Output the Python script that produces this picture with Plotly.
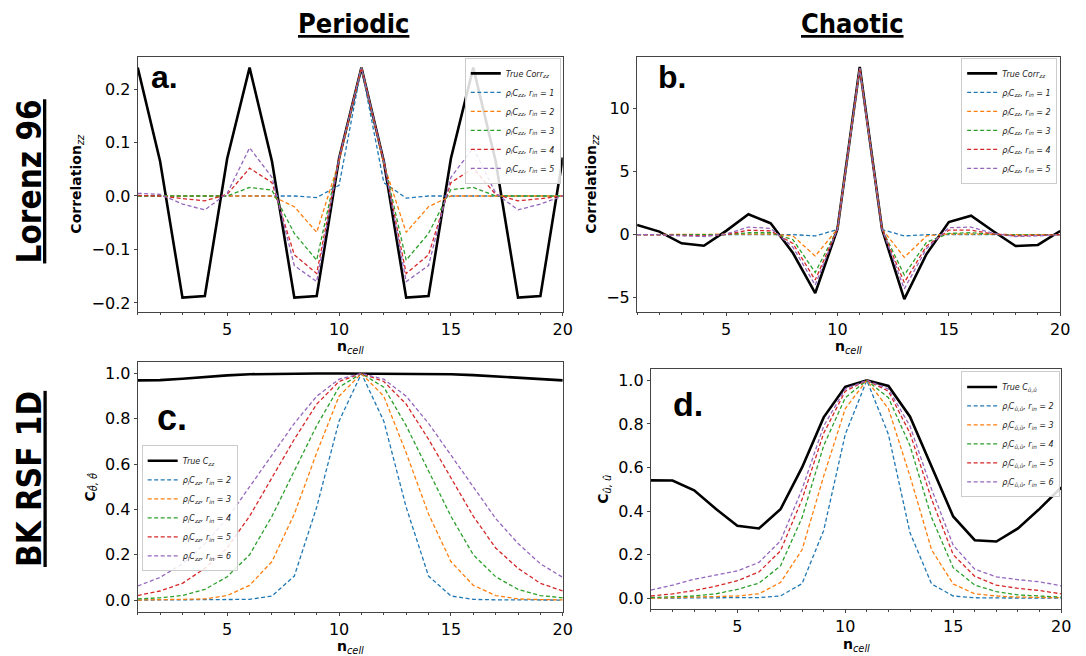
import plotly.graph_objects as go

x_cells = list(range(1, 21))

# Panel a: Lorenz 96 periodic
a_true = [0.240, 0.065, -0.190, -0.187, 0.070, 0.240, 0.065, -0.190, -0.187, 0.070,
          0.240, 0.065, -0.190, -0.187, 0.070, 0.240, 0.065, -0.190, -0.187, 0.072]
a_r1 = [0, 0, 0, 0, 0, 0, 0, 0, -0.003, 0.020, 0.240, 0.025, -0.004, 0, 0, 0, 0, 0, 0, 0]
a_r2 = [0, 0, 0, 0, 0, 0, 0, -0.020, -0.068, 0.065, 0.240, 0.060, -0.068, -0.020, 0, 0, 0, 0, 0, 0]
a_r3 = [0, 0, 0, 0, 0, 0.016, 0.011, -0.070, -0.120, 0.070, 0.240, 0.065, -0.120, -0.070, 0.012, 0.016, 0, 0, 0, 0]
a_r4 = [0.001, 0, -0.005, -0.009, 0.003, 0.052, 0.025, -0.110, -0.145, 0.070, 0.240, 0.065, -0.145, -0.110, 0.025, 0.052, 0.003, -0.009, -0.005, 0]
a_r5 = [0.005, 0.003, -0.015, -0.026, 0.005, 0.090, 0.035, -0.130, -0.160, 0.070, 0.240, 0.065, -0.160, -0.130, 0.035, 0.090, 0.005, -0.026, -0.015, 0]

# Panel b: Lorenz 96 chaotic
b_true = [0.77, 0.24, -0.69, -0.88, 0.30, 1.62, 0.90, -1.46, -4.64, 0.45,
          13.3, 0.45, -5.12, -1.54, 1.00, 1.50, 0.27, -0.90, -0.82, 0.29]
b_r1 = [0, 0, 0, 0, 0, 0, 0, 0, -0.10, 0.40, 13.2, 0.40, -0.10, 0, 0, 0, 0, 0, 0, 0]
b_r2 = [0, 0, 0, 0, 0, 0.05, 0.05, -0.10, -1.70, 0.45, 13.2, 0.45, -1.80, -0.10, 0.05, 0.05, 0, 0, 0, 0]
b_r3 = [0, 0, -0.03, -0.03, 0, 0.15, 0.15, -0.40, -3.00, 0.45, 13.2, 0.45, -3.20, -0.60, 0.10, 0.15, 0.02, -0.03, -0.02, 0]
b_r4 = [0, 0, -0.05, -0.10, 0, 0.35, 0.30, -0.70, -3.60, 0.45, 13.2, 0.45, -3.80, -0.90, 0.35, 0.35, 0.05, -0.10, -0.05, 0]
b_r5 = [0, 0, -0.10, -0.15, 0.05, 0.60, 0.50, -1.00, -4.00, 0.45, 13.2, 0.45, -4.30, -1.10, 0.55, 0.60, 0.10, -0.15, -0.10, 0]

# Panel c: BK RSF 1D periodic
c_true = [0.970, 0.971, 0.977, 0.985, 0.992, 0.997, 0.999, 1.0, 1.0, 1.0,
          1.0, 1.0, 1.0, 0.999, 0.997, 0.993, 0.987, 0.980, 0.974, 0.970]
c_r2 = [0.0, 0.0, 0.0, 0.001, 0.001, 0.003, 0.018, 0.106, 0.41, 0.79,
        1.0, 0.79, 0.41, 0.106, 0.018, 0.003, 0.001, 0.001, 0.0, 0.0]
c_r3 = [0.0, 0.001, 0.002, 0.005, 0.020, 0.065, 0.17, 0.38, 0.65, 0.90,
        1.0, 0.90, 0.65, 0.38, 0.17, 0.065, 0.020, 0.005, 0.002, 0.001]
c_r4 = [0.005, 0.010, 0.020, 0.047, 0.103, 0.20, 0.37, 0.57, 0.77, 0.94,
        1.0, 0.94, 0.77, 0.57, 0.37, 0.20, 0.103, 0.047, 0.020, 0.010]
c_r5 = [0.020, 0.040, 0.074, 0.14, 0.23, 0.37, 0.54, 0.71, 0.865, 0.965,
        1.0, 0.965, 0.865, 0.71, 0.54, 0.37, 0.23, 0.14, 0.074, 0.040]
c_r6 = [0.062, 0.10, 0.16, 0.25, 0.36, 0.50, 0.64, 0.78, 0.90, 0.975,
        1.0, 0.975, 0.90, 0.78, 0.64, 0.50, 0.36, 0.25, 0.16, 0.10]

# Panel d: BK RSF 1D chaotic
d_true = [0.541, 0.540, 0.495, 0.410, 0.332, 0.320, 0.408, 0.600, 0.830, 0.970,
          1.0, 0.974, 0.833, 0.600, 0.375, 0.266, 0.260, 0.320, 0.410, 0.508]
d_r2 = [0.0, 0.0, 0.0, 0.0, 0.001, 0.003, 0.010, 0.067, 0.31, 0.752,
        1.0, 0.752, 0.30, 0.065, 0.010, 0.002, 0.001, 0.0, 0.0, 0.0]
d_r3 = [0.0, 0.002, 0.003, 0.005, 0.010, 0.020, 0.072, 0.222, 0.56, 0.87,
        1.0, 0.87, 0.56, 0.222, 0.065, 0.020, 0.010, 0.005, 0.003, 0.002]
d_r4 = [0.003, 0.006, 0.010, 0.020, 0.040, 0.069, 0.148, 0.37, 0.70, 0.92,
        1.0, 0.92, 0.70, 0.37, 0.14, 0.06, 0.03, 0.015, 0.010, 0.005]
d_r5 = [0.010, 0.020, 0.035, 0.055, 0.080, 0.120, 0.217, 0.454, 0.757, 0.95,
        1.0, 0.95, 0.757, 0.454, 0.20, 0.10, 0.06, 0.045, 0.035, 0.020]
d_r6 = [0.037, 0.060, 0.087, 0.105, 0.125, 0.164, 0.263, 0.50, 0.79, 0.96,
        1.0, 0.96, 0.79, 0.50, 0.243, 0.133, 0.098, 0.085, 0.075, 0.057]

colors = ["#1f77b4", "#ff7f0e", "#2ca02c", "#d62728", "#9467bd"]

fig = go.Figure()

def add_panel(n, true_vals, true_name, series, names):
    xa = "x" if n == 1 else f"x{n}"
    ya = "y" if n == 1 else f"y{n}"
    lg = "legend" if n == 1 else f"legend{n}"
    fig.add_trace(go.Scatter(x=x_cells, y=true_vals, mode="lines", name=true_name,
                             line=dict(color="black", width=2.6), xaxis=xa, yaxis=ya, legend=lg))
    for vals, nm, col in zip(series, names, colors):
        fig.add_trace(go.Scatter(x=x_cells, y=vals, mode="lines", name=nm,
                                 line=dict(color=col, width=1.3, dash="4px,2.5px"),
                                 xaxis=xa, yaxis=ya, legend=lg))

czz = "<i>ρ<sub>l</sub>C<sub>zz</sub>, r<sub>in</sub> = %d</i>"
cuu = "<i>ρ<sub>l</sub>C<sub>û,û</sub>, r<sub>in</sub> = %d</i>"
add_panel(1, a_true, "<i>True Corr<sub>zz</sub></i>", [a_r1, a_r2, a_r3, a_r4, a_r5], [czz % k for k in range(1, 6)])
add_panel(2, b_true, "<i>True Corr<sub>zz</sub></i>", [b_r1, b_r2, b_r3, b_r4, b_r5], [czz % k for k in range(1, 6)])
add_panel(3, c_true, "<i>True C<sub>zz</sub></i>", [c_r2, c_r3, c_r4, c_r5, c_r6], [czz % k for k in range(2, 7)])
add_panel(4, d_true, "<i>True C<sub>û,û</sub></i>", [d_r2, d_r3, d_r4, d_r5, d_r6], [cuu % k for k in range(2, 7)])

W, H = 1086, 656
def px_dom(a, b, total):
    return [a / total, b / total]
def py_dom(top, bottom):
    return [1 - bottom / H, 1 - top / H]

tickfont = dict(family="DejaVu Sans", size=16, color="black")
titlefont = dict(family="DejaVu Sans", size=14, color="black")
ncell = "<b>n</b><sub><i>cell</i></sub>"

axcommon = dict(showline=True, mirror=True, linecolor="#444", linewidth=1.2, ticks="outside",
                ticklen=3, tickcolor="#444", showgrid=False, zeroline=False, tickfont=tickfont)
xcommon = dict(axcommon, range=[1, 20], tick0=0, dtick=5,
               minor=dict(dtick=1, tick0=0, ticks="outside", ticklen=2, tickcolor="#444"))

doms = {
    1: (px_dom(139, 568, W), py_dom(57, 312)),
    2: (px_dom(643, 1070, W), py_dom(57, 312)),
    3: (px_dom(139, 568, W), py_dom(363, 613)),
    4: (px_dom(657, 1071, W), py_dom(370, 610)),
}
yinfo = {
    1: dict(range=[-0.216, 0.26], dtick=0.1, tickformat=".1f", title="<b>Correlation</b><sub><i>zz</i></sub>"),
    2: dict(range=[-6.1, 14.1], dtick=5, title="<b>Correlation</b><sub><i>zz</i></sub>"),
    3: dict(range=[-0.053, 1.049], dtick=0.2, tickformat=".1f", title="<b>C</b><sub><i>θ̂, θ̂</i></sub>"),
    4: dict(range=[-0.05, 1.05], dtick=0.2, tickformat=".1f", title="<b>C</b><sub><i>û, û</i></sub>"),
}
lay = {}
for n in range(1, 5):
    xk = "xaxis" if n == 1 else f"xaxis{n}"
    yk = "yaxis" if n == 1 else f"yaxis{n}"
    xd, yd = doms[n]
    lay[xk] = dict(xcommon, domain=xd, anchor="y" if n == 1 else f"y{n}")
    yi = yinfo[n]
    lay[yk] = dict(axcommon, domain=yd, anchor="x" if n == 1 else f"x{n}",
                   range=yi["range"], dtick=yi["dtick"], tick0=0,
                   tickformat=yi.get("tickformat", ""),
                   title=dict(text=yi["title"], font=titlefont, standoff=6))

legfont = dict(family="DejaVu Sans", size=8, color="#222")
legcommon = dict(font=legfont, bgcolor="rgba(255,255,255,0.85)", bordercolor="#ccc", borderwidth=1,
                 itemwidth=30, tracegroupgap=0)
lay["legend"] = dict(legcommon, x=566 / W, y=1 - 58 / H, xanchor="right", yanchor="top")
lay["legend2"] = dict(legcommon, x=1067 / W, y=1 - 58 / H, xanchor="right", yanchor="top")
lay["legend3"] = dict(legcommon, x=143 / W, y=1 - 446 / H, xanchor="left", yanchor="top")
lay["legend4"] = dict(legcommon, x=1070 / W, y=1 - 372 / H, xanchor="right", yanchor="top")

fig.update_layout(width=W, height=H, margin=dict(l=0, r=0, t=0, b=0),
                  paper_bgcolor="white", plot_bgcolor="white", showlegend=True, **lay)

hdr = "Liberation Sans Narrow, DejaVu Sans Condensed, Arial Narrow, sans-serif"
ann = [
    dict(text="<b><u>Periodic</u></b>", x=357 / W, y=1 - 24 / H, font=dict(family=hdr, size=27)),
    dict(text="<b><u>Chaotic</u></b>", x=860 / W, y=1 - 24 / H, font=dict(family=hdr, size=27)),
    dict(text="<b><u>Lorenz 96</u></b>", x=30 / W, y=1 - 182 / H, textangle=-90, font=dict(family=hdr, size=33)),
    dict(text="<b><u>BK RSF 1D</u></b>", x=30 / W, y=1 - 480 / H, textangle=-90, font=dict(family=hdr, size=33)),
    dict(text="<b>a.</b>", x=166 / W, y=1 - 77 / H, font=dict(family="Liberation Sans", size=32)),
    dict(text="<b>b.</b>", x=678 / W, y=1 - 77 / H, font=dict(family="Liberation Sans", size=32)),
    dict(text="<b>c.</b>", x=174 / W, y=1 - 418 / H, font=dict(family="Liberation Sans", size=36)),
    dict(text="<b>d.</b>", x=694 / W, y=1 - 405 / H, font=dict(family="Liberation Sans", size=34)),
    dict(text=ncell, x=353.5 / W, y=1 - 348 / H, font=titlefont.copy()),
    dict(text=ncell, x=856 / W, y=1 - 348 / H, font=titlefont.copy()),
    dict(text=ncell, x=353.5 / W, y=1 - 648 / H, font=titlefont.copy()),
    dict(text=ncell, x=864 / W, y=1 - 646 / H, font=titlefont.copy()),
]
for a in ann:
    a.update(xref="paper", yref="paper", showarrow=False, xanchor="center", yanchor="middle")
    a["font"]["color"] = "black"
fig.update_layout(annotations=ann)

fig.write_html("out.html")
